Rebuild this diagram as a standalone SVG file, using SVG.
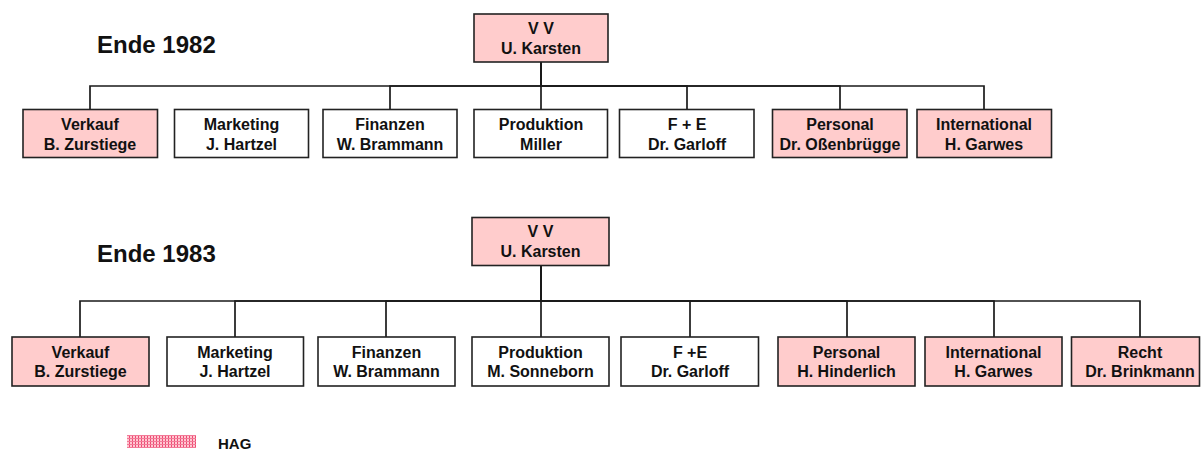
<svg xmlns="http://www.w3.org/2000/svg" width="1201" height="452" viewBox="0 0 1201 452">
<style>
.box{stroke:#222;stroke-width:1.6;fill:#fff}
.hag{fill:#ffcccc}
.t{font-family:"Liberation Sans",Arial,sans-serif;font-weight:bold;font-size:16px;fill:#111;text-anchor:middle}
.title{font-family:"Liberation Sans",Arial,sans-serif;font-weight:bold;font-size:24px;fill:#111}
.leg{font-family:"Liberation Sans",Arial,sans-serif;font-weight:bold;font-size:15px;fill:#111}
.c{fill:none;stroke:#1a1a1a;stroke-width:1.7}
</style>
<defs>
<pattern id="grid" width="3" height="3" patternUnits="userSpaceOnUse">
<rect width="3" height="3" fill="#ffc8d2"/>
<rect x="0" y="0" width="1" height="3" fill="#ee4a72"/>
<rect x="0" y="0" width="3" height="1" fill="#f27a98"/>
</pattern>
</defs>
<rect width="1201" height="452" fill="#fff"/>
<text class="title" x="97" y="53">Ende 1982</text>
<text class="title" x="97" y="262">Ende 1983</text>
<g id="connectors">
<path class="c" d="M541,62 V86 H90 V109"/>
<path class="c" d="M541,62 V86 H390 V109"/>
<path class="c" d="M541,62 V109"/>
<path class="c" d="M541,62 V86 H687 V109"/>
<path class="c" d="M541,62 V86 H840 V109"/>
<path class="c" d="M541,62 V86 H984 V109"/>
<path class="c" d="M541,266 V301 H80 V337"/>
<path class="c" d="M541,266 V301 H235 V337"/>
<path class="c" d="M541,266 V301 H386 V337"/>
<path class="c" d="M541,266 V337"/>
<path class="c" d="M541,266 V301 H690 V337"/>
<path class="c" d="M541,266 V301 H847 V337"/>
<path class="c" d="M541,266 V301 H994 V337"/>
<path class="c" d="M541,266 V301 H1140 V337"/>
</g>
<g id="vv1982"><rect class="box hag" x="474" y="14" width="134" height="48"/><text class="t" x="541" y="34">V V</text><text class="t" x="541" y="54">U. Karsten</text></g>
<g id="a1"><rect class="box hag" x="23" y="109.5" width="134.5" height="48"/><text class="t" x="90" y="130">Verkauf</text><text class="t" x="90" y="150">B. Zurstiege</text></g>
<g id="a2"><rect class="box" x="174.5" y="109.5" width="134" height="48"/><text class="t" x="241.5" y="130">Marketing</text><text class="t" x="241.5" y="150">J. Hartzel</text></g>
<g id="a3"><rect class="box" x="323" y="109.5" width="134" height="48"/><text class="t" x="390" y="130">Finanzen</text><text class="t" x="390" y="150">W. Brammann</text></g>
<g id="a4"><rect class="box" x="474" y="109.5" width="133.5" height="48"/><text class="t" x="541" y="130">Produktion</text><text class="t" x="541" y="150">Miller</text></g>
<g id="a5"><rect class="box" x="619.5" y="109.5" width="134.5" height="48"/><text class="t" x="687" y="130">F + E</text><text class="t" x="687" y="150">Dr. Garloff</text></g>
<g id="a6"><rect class="box hag" x="772.5" y="109.5" width="134.5" height="48"/><text class="t" x="840" y="130">Personal</text><text class="t" x="840" y="150">Dr. Oßenbrügge</text></g>
<g id="a7"><rect class="box hag" x="917" y="109.5" width="134.5" height="48"/><text class="t" x="984" y="130">International</text><text class="t" x="984" y="150">H. Garwes</text></g>
<g id="vv1983"><rect class="box hag" x="472" y="217.5" width="137" height="48"/><text class="t" x="540.5" y="237">V V</text><text class="t" x="540.5" y="257">U. Karsten</text></g>
<g id="b1"><rect class="box hag" x="12" y="337" width="137" height="49"/><text class="t" x="80.5" y="358">Verkauf</text><text class="t" x="80.5" y="377">B. Zurstiege</text></g>
<g id="b2"><rect class="box" x="167" y="337" width="136.5" height="49"/><text class="t" x="235" y="358">Marketing</text><text class="t" x="235" y="377">J. Hartzel</text></g>
<g id="b3"><rect class="box" x="318" y="337" width="137" height="49"/><text class="t" x="386.5" y="358">Finanzen</text><text class="t" x="386.5" y="377">W. Brammann</text></g>
<g id="b4"><rect class="box" x="472" y="337" width="137" height="49"/><text class="t" x="540.5" y="358">Produktion</text><text class="t" x="540.5" y="377">M. Sonneborn</text></g>
<g id="b5"><rect class="box" x="621" y="337" width="137.5" height="49"/><text class="t" x="690" y="358">F +E</text><text class="t" x="690" y="377">Dr. Garloff</text></g>
<g id="b6"><rect class="box hag" x="778" y="337" width="137" height="49"/><text class="t" x="846.5" y="358">Personal</text><text class="t" x="846.5" y="377">H. Hinderlich</text></g>
<g id="b7"><rect class="box hag" x="925" y="337" width="137" height="49"/><text class="t" x="993.5" y="358">International</text><text class="t" x="993.5" y="377">H. Garwes</text></g>
<g id="b8"><rect class="box hag" x="1071.5" y="337" width="128" height="49"/><text class="t" x="1140" y="358">Recht</text><text class="t" x="1140" y="377">Dr. Brinkmann</text></g>
<g id="legend"><rect x="127" y="435" width="69" height="13" fill="url(#grid)"/><text class="leg" x="218" y="449">HAG</text></g>
</svg>
